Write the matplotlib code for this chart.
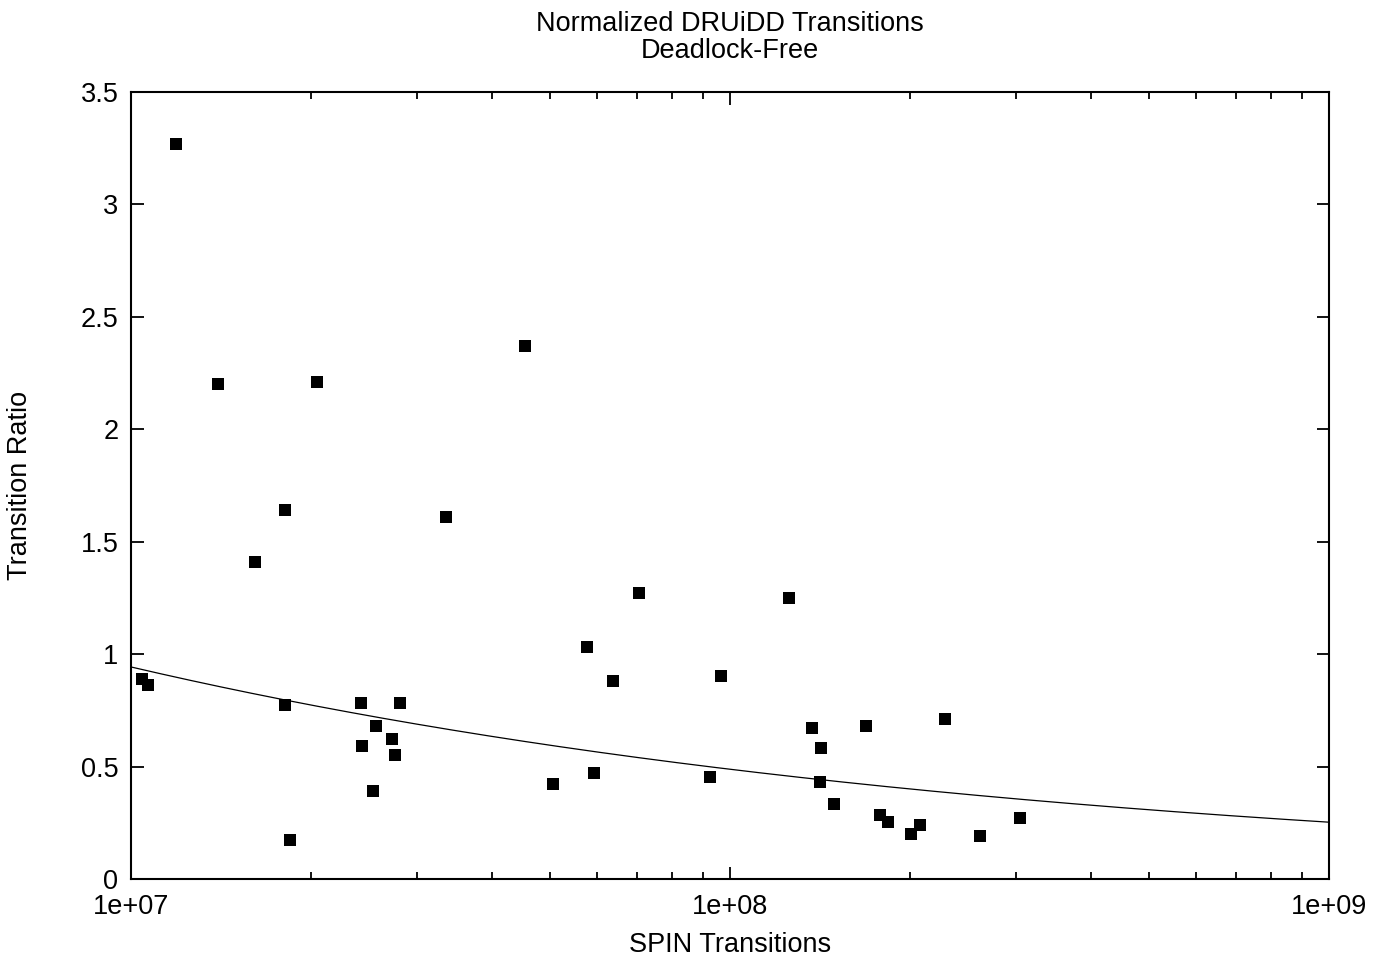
import numpy as np
import matplotlib
matplotlib.use("Agg")
import matplotlib.pyplot as plt
from matplotlib.ticker import LogLocator, FixedLocator, FixedFormatter, NullFormatter

plt.rcParams['font.family'] = ['Liberation Sans', 'DejaVu Sans']

spin_transitions = [1.189e7, 1.397e7, 2.044e7, 4.55e7, 1.807e7, 3.357e7, 1.611e7,
                    7.05e7, 1.255e8, 5.77e7, 6.38e7, 9.66e7, 1.043e7, 1.067e7,
                    1.807e7, 2.421e7, 2.812e7, 2.565e7, 2.43e7, 2.728e7, 2.76e7,
                    2.535e7, 1.842e7, 5.065e7, 5.93e7, 9.26e7, 1.371e8, 1.419e8,
                    1.413e8, 1.492e8, 1.687e8, 1.78e8, 1.835e8, 2.005e8, 2.076e8,
                    2.285e8, 2.615e8, 3.05e8]
transition_ratio = [3.268, 2.201, 2.210, 2.370, 1.641, 1.610, 1.410,
                    1.272, 1.249, 1.032, 0.880, 0.903, 0.889, 0.863,
                    0.774, 0.783, 0.783, 0.680, 0.591, 0.622, 0.551,
                    0.391, 0.173, 0.422, 0.471, 0.454, 0.671, 0.582,
                    0.431, 0.333, 0.680, 0.285, 0.253, 0.200, 0.240,
                    0.711, 0.191, 0.271]

# fitted power law f(x) = a * (x / 1e7) ** b
fit_a = 0.943
fit_b = -0.286

y_ticks = [0, 0.5, 1, 1.5, 2, 2.5, 3, 3.5]
y_tick_labels = ["0", "0.5", "1", "1.5", "2", "2.5", "3", "3.5"]
x_ticks = [1e7, 1e8, 1e9]
x_tick_labels = ["1e+07", "1e+08", "1e+09"]

W, H = 1380, 965
FS = 19.5
fig = plt.figure(figsize=(W / 100, H / 100), dpi=100)
ax = fig.add_axes([131/W, 1-879/H, (1329-131)/W, (879-92)/H])

ax.plot(spin_transitions, transition_ratio, linestyle='none', marker='s',
        markersize=8.6, color='black', markeredgewidth=0)

xf = np.logspace(7, 9, 400)
ax.plot(xf, fit_a * (xf / 1e7) ** fit_b, color='black', linewidth=0.9)

ax.set_xscale('log')
ax.set_xlim(1e7, 1e9)
ax.set_ylim(0, 3.5)
ax.xaxis.set_major_locator(FixedLocator(x_ticks))
ax.xaxis.set_major_formatter(FixedFormatter(x_tick_labels))
ax.xaxis.set_minor_locator(LogLocator(base=10, subs=np.arange(2, 10)))
ax.xaxis.set_minor_formatter(NullFormatter())
ax.yaxis.set_major_locator(FixedLocator(y_ticks))
ax.yaxis.set_major_formatter(FixedFormatter(y_tick_labels))

ax.tick_params(which='both', direction='in', top=True, right=True,
               labelsize=FS, color='black')
ax.tick_params(which='major', length=9, width=1.3)
ax.tick_params(axis='y', which='major', pad=9)
ax.tick_params(axis='x', which='major', pad=11)
ax.tick_params(which='minor', length=5, width=1.3)
for s in ax.spines.values():
    s.set_linewidth(1.5)

fig.text(730/W, 1-945/H, "SPIN Transitions", fontsize=FS, ha='center', va='center')
fig.text(20/W, 1-485/H, "Transition Ratio", fontsize=FS, ha='center', va='center',
         rotation=90)
fig.text(730/W, 1-24/H, "Normalized DRUiDD Transitions", fontsize=FS,
         ha='center', va='center')
fig.text(730/W, 1-51/H, "Deadlock-Free", fontsize=FS, ha='center', va='center')

fig.savefig("out.png", dpi=100)
